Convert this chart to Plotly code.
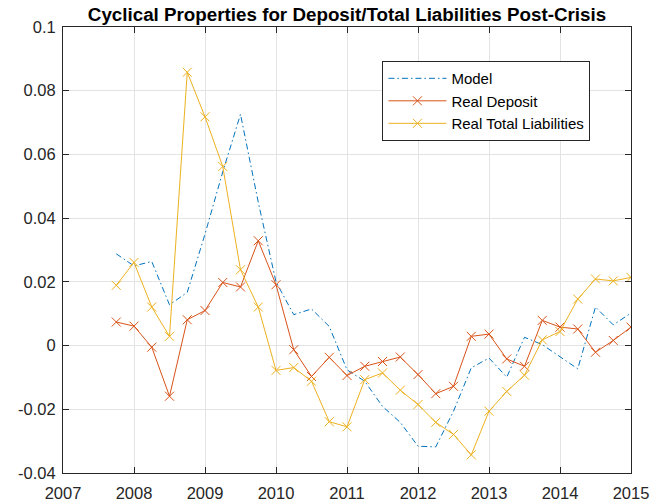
import plotly.graph_objects as go

# Quarterly observation dates (decimal years)
quarters = [2007.75, 2008.0, 2008.25, 2008.5, 2008.75, 2009.0, 2009.25, 2009.5, 2009.75,
            2010.0, 2010.25, 2010.5, 2010.75, 2011.0, 2011.25, 2011.5, 2011.75,
            2012.0, 2012.25, 2012.5, 2012.75, 2013.0, 2013.25, 2013.5, 2013.75,
            2014.0, 2014.25, 2014.5, 2014.75, 2015.0]

model = [0.0288, 0.0250, 0.0264, 0.0128, 0.0167, 0.0350, 0.0545, 0.0726, 0.0450,
         0.0200, 0.0097, 0.0115, 0.0060, -0.0076, -0.0112, -0.0191, -0.0241,
         -0.0316, -0.0318, -0.0206, -0.0070, -0.0039, -0.0099, 0.0026, 0.0003,
         -0.0034, -0.0073, 0.0121, 0.0065, 0.0102]

real_deposit = [0.0074, 0.0061, -0.0005, -0.0159, 0.0081, 0.0110, 0.0198, 0.0184, 0.0329,
                0.0191, -0.0013, -0.0097, -0.0037, -0.0094, -0.0065, -0.0050, -0.0036,
                -0.0091, -0.0151, -0.0128, 0.0029, 0.0036, -0.0042, -0.0065, 0.0079,
                0.0058, 0.0052, -0.0021, 0.0016, 0.0058]

real_total_liab = [0.0189, 0.0261, 0.0121, 0.0029, 0.0858, 0.0718, 0.0562, 0.0238, 0.0121,
                   -0.0078, -0.0069, -0.0112, -0.0239, -0.0255, -0.0107, -0.0086, -0.0140,
                   -0.0185, -0.0241, -0.0279, -0.0343, -0.0206, -0.0144, -0.0093, 0.0018,
                   0.0044, 0.0146, 0.0209, 0.0203, 0.0214]

x_tickvals = [2007, 2008, 2009, 2010, 2011, 2012, 2013, 2014, 2015]
x_ticktext = ["2007", "2008", "2009", "2010", "2011", "2012", "2013", "2014", "2015"]
y_tickvals = [-0.04, -0.02, 0, 0.02, 0.04, 0.06, 0.08, 0.1]
y_ticktext = ["-0.04", "-0.02", "0", "0.02", "0.04", "0.06", "0.08", "0.1"]

FONT = "Liberation Sans, Arial, sans-serif"
AX = "#262626"

fig = go.Figure()
fig.add_trace(go.Scatter(
    x=quarters, y=model, name="Model", mode="lines",
    line=dict(color="#0072BD", width=1, dash="6px,3px,1.5px,3px")))
fig.add_trace(go.Scatter(
    x=quarters, y=real_deposit, name="Real Deposit", mode="lines+markers",
    line=dict(color="#D95319", width=1),
    marker=dict(symbol="x-thin", size=9, color="#D95319",
                line=dict(color="#D95319", width=1))))
fig.add_trace(go.Scatter(
    x=quarters, y=real_total_liab, name="Real Total Liabilities", mode="lines+markers",
    line=dict(color="#EDB120", width=1),
    marker=dict(symbol="x-thin", size=9, color="#EDB120",
                line=dict(color="#EDB120", width=1))))

fig.update_layout(
    width=653, height=503,
    margin=dict(l=63, r=22, t=27, b=30, autoexpand=False),
    paper_bgcolor="white", plot_bgcolor="white",
    font=dict(family=FONT, size=16.5, color=AX),
    title=dict(text="<b>Cyclical Properties for Deposit/Total Liabilities Post-Crisis</b>",
               x=0.5, xref="paper", xanchor="center", y=0.972, yref="container",
               yanchor="middle", automargin=False,
               font=dict(family=FONT, size=18.8, color="black")),
    showlegend=True,
    legend=dict(x=0.5624, y=0.9236, xanchor="left", yanchor="top",
                bgcolor="white", bordercolor=AX, borderwidth=1,
                font=dict(family=FONT, size=15, color="black"),
                itemwidth=58, tracegroupgap=0),
)
fig.update_xaxes(
    range=[2007, 2015], tickvals=x_tickvals, ticktext=x_ticktext,
    showgrid=True, gridcolor="#e3e3e3", gridwidth=1, zeroline=False,
    showline=True, linecolor=AX, linewidth=1, mirror="ticks",
    ticks="inside", ticklen=6, tickcolor=AX, ticklabelstandoff=5,
    automargin=False,
    tickfont=dict(family=FONT, size=16.5, color=AX))
fig.update_yaxes(
    range=[-0.04, 0.1], tickvals=y_tickvals, ticktext=y_ticktext,
    showgrid=True, gridcolor="#e3e3e3", gridwidth=1, zeroline=False,
    showline=True, linecolor=AX, linewidth=1, mirror="ticks",
    ticks="inside", ticklen=6, tickcolor=AX, ticklabelstandoff=3,
    automargin=False,
    tickfont=dict(family=FONT, size=16.5, color=AX))

fig.write_html("out.html",
               config={"displayModeBar": False},
               post_script="document.body.style.margin='0';document.body.style.overflow='hidden';")
